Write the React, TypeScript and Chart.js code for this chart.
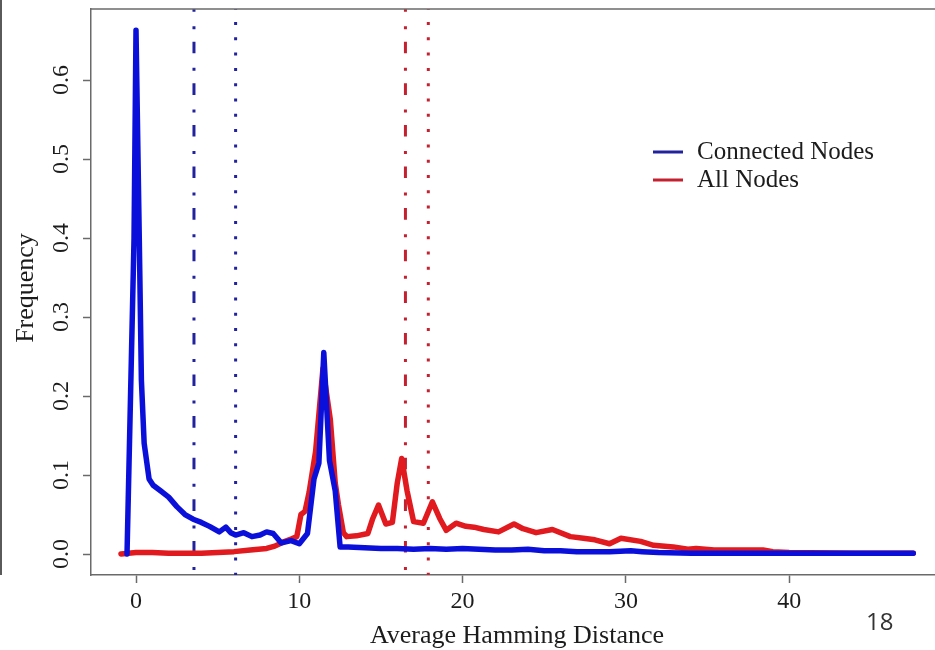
import React, { useEffect, useRef } from "react";
import { Chart, registerables } from "chart.js";

Chart.register(...registerables);

// ---- data ----
const blueX = [-0.55, -0.12, 0.0, 0.2, 0.33, 0.5, 0.8, 1.05, 1.5, 2.0, 2.5, 3.0, 3.5, 4.0, 4.5, 5.1, 5.5, 5.8, 6.1, 6.6, 7.1, 7.6, 8.0, 8.4, 8.9, 9.5, 10.0, 10.5, 10.9, 11.2, 11.5, 11.85, 12.2, 12.5, 13, 14, 15, 16, 17, 18, 19, 20, 21, 22, 23, 24, 25, 26, 27, 28, 29, 30.3, 31, 32, 34, 36, 40, 44, 47.6];
const blueY = [0, 0.4, 0.663, 0.4, 0.22, 0.14, 0.095, 0.087, 0.08, 0.072, 0.06, 0.05, 0.044, 0.04, 0.035, 0.028, 0.034, 0.027, 0.024, 0.027, 0.022, 0.024, 0.028, 0.026, 0.014, 0.017, 0.013, 0.026, 0.095, 0.115, 0.255, 0.118, 0.08, 0.009, 0.009, 0.008, 0.007, 0.007, 0.006, 0.007, 0.006, 0.007, 0.006, 0.005, 0.005, 0.006, 0.004, 0.004, 0.003, 0.003, 0.003, 0.004, 0.003, 0.002, 0.001, 0.001, 0.001, 0.001, 0.001];

const redX = [-0.92, 0, 1, 2, 3, 4, 5, 6, 7, 8, 8.5, 9.0, 9.5, 9.85, 10.1, 10.35, 10.6, 11.0, 11.45, 11.9, 12.2, 12.4, 12.7, 12.9, 13.5, 14.2, 14.5, 14.85, 15.3, 15.7, 16.0, 16.27, 16.6, 17.0, 17.6, 18.15, 18.6, 19.0, 19.6, 20.2, 20.7, 21.3, 22.2, 23.15, 23.7, 24.5, 25.5, 26.6, 27.4, 28.1, 29.0, 29.7, 30.9, 31.7, 32.9, 33.8, 34.3, 35.4, 38.4, 39.0, 40, 44, 47.6];
const redY = [0, 0.002, 0.002, 0.001, 0.001, 0.001, 0.002, 0.003, 0.005, 0.007, 0.01, 0.015, 0.019, 0.022, 0.05, 0.054, 0.078, 0.13, 0.235, 0.17, 0.09, 0.062, 0.027, 0.022, 0.023, 0.026, 0.045, 0.062, 0.038, 0.04, 0.09, 0.121, 0.08, 0.041, 0.039, 0.066, 0.045, 0.03, 0.039, 0.035, 0.034, 0.031, 0.028, 0.038, 0.032, 0.027, 0.031, 0.022, 0.02, 0.018, 0.013, 0.02, 0.016, 0.011, 0.009, 0.006, 0.007, 0.005, 0.005, 0.003, 0.002, 0.001, 0.001];

// reference lines: [dot-dash, dotted]
const connectedRefLines = [3.55, 6.1];
const allRefLines = [16.5, 17.9];

const xTicks = [0, 10, 20, 30, 40];
const yTicks = [0, 0.1, 0.2, 0.3, 0.4, 0.5, 0.6];
const xRange = [-2.756, 48.93];
const yRange = [-0.02658, 0.6899];

const seriesNames = ["Connected Nodes", "All Nodes"];
const xTitle = "Average Hamming Distance";
const yTitle = "Frequency";
const pageNumber = "18";

const BLUE = "#0a10da";
const RED = "#e01a1e";
const BLUE_DARK = "#22229e";
const RED_DARK = "#c42030";
const AXIS = "#6a6a6a";
const TEXT = "#1c1c1c";
const SERIF = '"Liberation Serif", "DejaVu Serif", serif';

const toPoints = (xs: number[], ys: number[]) => xs.map((x, i) => ({ x, y: ys[i] }));
const vline = (x: number) => [
  { x, y: yRange[1] },
  { x, y: yRange[0] },
];

const decor = {
  id: "decor",
  afterDraw(chart: any) {
    const { ctx, chartArea: a, scales } = chart;
    const y = scales.y;
    ctx.save();
    // top border of plot box
    ctx.strokeStyle = AXIS;
    ctx.lineWidth = 1.5;
    ctx.beginPath();
    ctx.moveTo(a.left, a.top);
    ctx.lineTo(a.right, a.top);
    ctx.stroke();
    // slide edge line
    ctx.strokeStyle = "#5a5a5a";
    ctx.lineWidth = 2;
    ctx.beginPath();
    ctx.moveTo(1, 0);
    ctx.lineTo(1, a.bottom);
    ctx.stroke();

    // y tick labels (rotated)
    ctx.fillStyle = TEXT;
    ctx.font = `24px ${SERIF}`;
    ctx.textAlign = "center";
    ctx.textBaseline = "middle";
    for (const v of yTicks) {
      ctx.save();
      ctx.translate(62, y.getPixelForValue(v));
      ctx.rotate(-Math.PI / 2);
      ctx.fillText(v.toFixed(1), 0, 0);
      ctx.restore();
    }
    // y title
    ctx.save();
    ctx.font = `26px ${SERIF}`;
    ctx.translate(26, 288);
    ctx.rotate(-Math.PI / 2);
    ctx.textBaseline = "middle";
    ctx.fillText(yTitle, 0, 0);
    ctx.restore();
    // x title
    ctx.font = `26px ${SERIF}`;
    ctx.textAlign = "center";
    ctx.textBaseline = "alphabetic";
    ctx.fillText(xTitle, 517, 643);

    // legend
    const legendColors = [BLUE_DARK, RED_DARK];
    const legendY = [152, 180];
    ctx.font = `25px ${SERIF}`;
    ctx.textAlign = "left";
    ctx.textBaseline = "middle";
    seriesNames.forEach((name, i) => {
      ctx.strokeStyle = legendColors[i];
      ctx.lineWidth = 3;
      ctx.beginPath();
      ctx.moveTo(653, legendY[i]);
      ctx.lineTo(683, legendY[i]);
      ctx.stroke();
      ctx.fillStyle = TEXT;
      ctx.fillText(name, 697, legendY[i]);
    });

    // page number
    ctx.font = '24px "Open Sans", "DejaVu Sans", sans-serif';
    ctx.fillStyle = "#333";
    ctx.textAlign = "left";
    ctx.textBaseline = "middle";
    ctx.fillText(pageNumber, 866, 623);
    ctx.restore();
  },
};

export default function App() {
  const ref = useRef<HTMLCanvasElement | null>(null);
  useEffect(() => {
    if (!ref.current) return;
    const dotDash = [11.6, 14.5, 3, 12.5];
    const dotted = [3, 12.3];
    const refLine = (x: number, color: string, dash: number[], offset: number, label: string) => ({
      label,
      data: vline(x),
      borderColor: color,
      borderWidth: 3,
      pointRadius: 0,
      borderDash: dash,
      borderDashOffset: offset,
      borderCapStyle: "butt",
    });
    const chart = new Chart(ref.current, {
      type: "line",
      data: {
        datasets: [
          {
            label: seriesNames[0],
            data: toPoints(blueX, blueY),
            borderColor: BLUE,
            borderWidth: 5.5,
            pointRadius: 0,
            tension: 0,
            borderJoinStyle: "round",
            borderCapStyle: "round",
          },
          {
            label: seriesNames[1],
            data: toPoints(redX, redY),
            borderColor: RED,
            borderWidth: 5.5,
            pointRadius: 0,
            tension: 0,
            borderJoinStyle: "round",
            borderCapStyle: "round",
          },
          refLine(connectedRefLines[0], BLUE_DARK, dotDash, 8.9, "cm"),
          refLine(connectedRefLines[1], BLUE_DARK, dotted, 2.3, "cd"),
          refLine(allRefLines[0], RED_DARK, dotDash, 8.9, "am"),
          refLine(allRefLines[1], RED_DARK, dotted, 2.3, "ad"),
        ] as any,
      },
      options: {
        animation: false,
        responsive: false,
        devicePixelRatio: 1,
        layout: { padding: { left: 0, top: 9, right: 0, bottom: 0 } },
        plugins: { legend: { display: false }, tooltip: { enabled: false } },
        scales: {
          x: {
            type: "linear",
            min: xRange[0],
            max: xRange[1],
            afterBuildTicks: (s: any) => {
              s.ticks = xTicks.map((value) => ({ value }));
            },
            afterFit: (s: any) => {
              s.height = 75;
            },
            border: { display: true, color: AXIS, width: 1.5 },
            grid: { drawOnChartArea: false, drawTicks: true, tickLength: 8, tickColor: AXIS, tickWidth: 1.5 },
            ticks: {
              color: TEXT,
              font: { family: SERIF, size: 24 },
              padding: 4,
              maxRotation: 0,
              autoSkip: false,
            },
          },
          y: {
            type: "linear",
            min: yRange[0],
            max: yRange[1],
            afterBuildTicks: (s: any) => {
              s.ticks = yTicks.map((value) => ({ value }));
            },
            afterFit: (s: any) => {
              s.width = 91;
            },
            border: { display: true, color: AXIS, width: 1.5 },
            grid: { drawOnChartArea: false, drawTicks: true, tickLength: 8, tickColor: AXIS, tickWidth: 1.5 },
            ticks: { display: false },
          },
        },
      },
      plugins: [decor],
    });
    return () => chart.destroy();
  }, []);
  return (
    <div style={{ position: "absolute", left: 0, top: 0, width: 935, height: 650, overflow: "hidden", background: "#fff" }}>
      <canvas ref={ref} width={935} height={650} style={{ display: "block" }} />
    </div>
  );
}
